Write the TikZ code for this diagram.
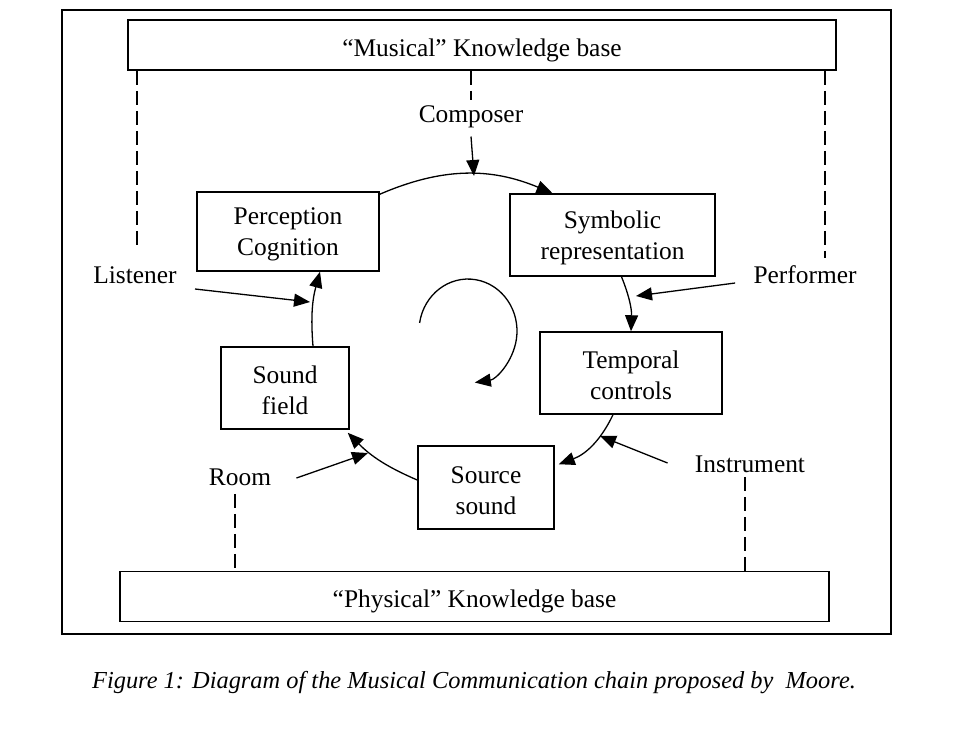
\documentclass[tikz,border=0pt]{standalone}
\usepackage{fontspec}
\setmainfont{Liberation Serif}
\usetikzlibrary{arrows.meta,positioning}
\tikzset{
  mc diagram/.style={x=0.5pt, y=-0.5pt, font=\fontsize{12.7}{15.5}\selectfont,
    line join=miter},
  mc box/.style={draw, line width=0.75pt, align=center, inner sep=0pt,
    text height=27pt},
  mc kb/.style={draw, line width=0.75pt, inner sep=0pt, minimum height=25pt,
    text height=14pt},
  mc label/.style={inner sep=1pt},
  mc arrow/.style={-{Triangle[length=8pt,width=6.5pt]}, line width=0.65pt},
  mc link/.style={dash pattern=on 7pt off 3pt, line width=0.65pt}
}
\begin{document}
\begin{tikzpicture}[mc diagram]
\useasboundingbox (0,0) rectangle (962,750);
\draw[line width=0.75pt] (62,10) rectangle (891,634);
% knowledge bases
\node[mc kb, minimum width=354pt] (musical) at (482,45) {``Musical'' Knowledge base};
\node[mc kb, minimum width=354.5pt] (physical) at (474.5,596.5) {``Physical'' Knowledge base};
% stages of the chain
\node[mc box, minimum width=91pt, minimum height=39.5pt] (perception) at (288,231.5) {Perception\\Cognition};
\node[mc box, minimum width=102.5pt, minimum height=41pt] (symbolic) at (612.5,235) {Symbolic\\representation};
\node[mc box, minimum width=91pt, minimum height=41pt] (temporal) at (631,373) {Temporal\\controls};
\node[mc box, minimum width=68pt, minimum height=41.5pt] (source) at (486,487.5) {Source\\sound};
\node[mc box, minimum width=64pt, minimum height=41pt] (soundfield) at (285,388) {Sound\\field};
% actors
\node[mc label] (composer) at (471,117) {Composer};
\node[mc label] (listener) at (135,275) {Listener};
\node[mc label] (performer) at (805,275) {Performer};
\node[mc label] (room) at (240,477) {Room};
\node[mc label] (instrument) at (750,464) {Instrument};
% the chain
\draw[mc arrow] ([yshift=-1.5pt]perception.north east) to[bend left=23] ([xshift=-30pt]symbolic.north);
\draw[mc arrow] ([xshift=4.5pt]symbolic.south) to[bend left=12] (temporal.north);
\draw[mc arrow] ([xshift=-9pt]temporal.south) to[bend left=22] ([xshift=2pt,yshift=-9.5pt]source.north east);
\draw[mc arrow] ([yshift=3.75pt]source.west) to[bend left=11] ([xshift=-1pt,yshift=-1.5pt]soundfield.south east);
\draw[mc arrow] ([xshift=14pt]soundfield.north) to[bend left=10] ([xshift=16pt]perception.south);
\draw[mc arrow] (419.6,322.9) arc[start angle=189, end angle=442, x radius=49, y radius=52];
% actors feeding the chain
\coordinate (composer tip) at (474,176);
\coordinate (listener tip) at (310,302);
\coordinate (performer tip) at (636,296);
\coordinate (room tip) at (368,453);
\coordinate (instrument tip) at (600,436);
\draw[mc arrow] ([yshift=-3pt]composer.south) -- (composer tip);
\draw[mc arrow] ([xshift=8pt,yshift=-7pt]listener.east) -- (listener tip);
\draw[mc arrow] ([xshift=-8pt,yshift=-4pt]performer.west) -- (performer tip);
\draw[mc arrow] ([xshift=11.5pt,yshift=-0.5pt]room.east) -- (room tip);
\draw[mc arrow] ([xshift=-12.5pt,yshift=0.5pt]instrument.west) -- (instrument tip);
% links to the knowledge bases
\draw[mc link] (musical.south -| composer.north) -- ([yshift=1.5pt]composer.north);
\draw[mc link] (musical.south -| 137,0) -- ([xshift=1pt,yshift=9pt]listener.north);
\draw[mc link] (musical.south -| 825,0) -- ([xshift=10pt,yshift=3pt]performer.north);
\draw[mc link] ([xshift=-2.5pt,yshift=-3pt]room.south) -- (physical.north -| 235,0);
\draw[mc link] ([xshift=-2.5pt,yshift=-1pt]instrument.south) -- (physical.north -| 745,0);
% caption
\node[font=\fontsize{12.2}{15}\selectfont\itshape] (caption) at (474,683) {Figure 1: Diagram of the Musical Communication chain proposed by\ \ Moore.};
\end{tikzpicture}
\end{document}
